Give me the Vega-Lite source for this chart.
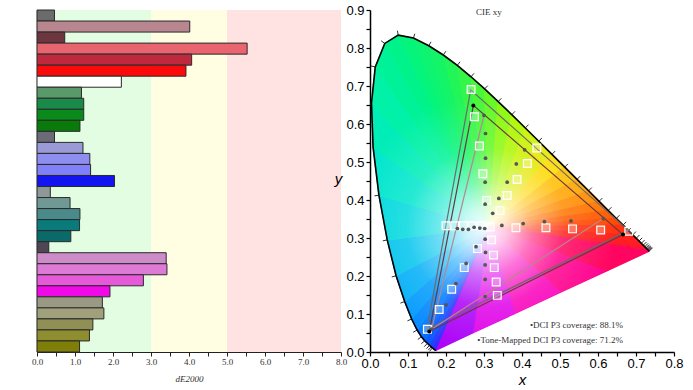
{
  "$schema": "https://vega.github.io/schema/vega-lite/v6.json",
  "padding": {"left": 31, "top": 4, "right": 5, "bottom": 2},
  "background": "white",
  "bounds": "flush",
  "spacing": 29,
  "config": {"view": {"stroke": null}, "axis": {"grid": false}},
  "datasets": {
    "bands": [
      {"lo": 0, "hi": 3, "zone": "good"},
      {"lo": 3, "hi": 5, "zone": "ok"},
      {"lo": 5, "hi": 8, "zone": "bad"}
    ],
    "bars": [
      {"p": "01", "de": 0.46}, {"p": "02", "de": 4.02}, {"p": "03", "de": 0.73}, {"p": "04", "de": 5.53},
      {"p": "05", "de": 4.07}, {"p": "06", "de": 3.92}, {"p": "07", "de": 2.22}, {"p": "08", "de": 1.17},
      {"p": "09", "de": 1.23}, {"p": "10", "de": 1.23}, {"p": "11", "de": 1.13}, {"p": "12", "de": 0.46},
      {"p": "13", "de": 1.21}, {"p": "14", "de": 1.39}, {"p": "15", "de": 1.41}, {"p": "16", "de": 2.04},
      {"p": "17", "de": 0.35}, {"p": "18", "de": 0.87}, {"p": "19", "de": 1.13}, {"p": "20", "de": 1.12},
      {"p": "21", "de": 0.89}, {"p": "22", "de": 0.31}, {"p": "23", "de": 3.40}, {"p": "24", "de": 3.42},
      {"p": "25", "de": 2.80}, {"p": "26", "de": 1.92}, {"p": "27", "de": 1.72}, {"p": "28", "de": 1.76},
      {"p": "29", "de": 1.47}, {"p": "30", "de": 1.38}, {"p": "31", "de": 1.12}
    ],
    "fan": [
      {"nm": 400, "xs": [0.3127, 0.1741, 0.1714], "ys": [0.329, 0.0050, 0.0051], "k": [0, 1, 2]},
      {"nm": 430, "xs": [0.3127, 0.1714, 0.1644], "ys": [0.329, 0.0051, 0.0109], "k": [0, 1, 2]},
      {"nm": 445, "xs": [0.3127, 0.1644, 0.1566], "ys": [0.329, 0.0109, 0.0177], "k": [0, 1, 2]},
      {"nm": 455, "xs": [0.3127, 0.1566, 0.1440], "ys": [0.329, 0.0177, 0.0297], "k": [0, 1, 2]},
      {"nm": 462.5, "xs": [0.3127, 0.1440, 0.1355], "ys": [0.329, 0.0297, 0.0399], "k": [0, 1, 2]},
      {"nm": 467.5, "xs": [0.3127, 0.1355, 0.1241], "ys": [0.329, 0.0399, 0.0578], "k": [0, 1, 2]},
      {"nm": 472.5, "xs": [0.3127, 0.1241, 0.1096], "ys": [0.329, 0.0578, 0.0868], "k": [0, 1, 2]},
      {"nm": 477.5, "xs": [0.3127, 0.1096, 0.0913], "ys": [0.329, 0.0868, 0.1327], "k": [0, 1, 2]},
      {"nm": 482.5, "xs": [0.3127, 0.0913, 0.0687], "ys": [0.329, 0.1327, 0.2007], "k": [0, 1, 2]},
      {"nm": 487.5, "xs": [0.3127, 0.0687, 0.0454], "ys": [0.329, 0.2007, 0.2950], "k": [0, 1, 2]},
      {"nm": 492.5, "xs": [0.3127, 0.0454, 0.0235], "ys": [0.329, 0.2950, 0.4127], "k": [0, 1, 2]},
      {"nm": 497.5, "xs": [0.3127, 0.0235, 0.0082], "ys": [0.329, 0.4127, 0.5384], "k": [0, 1, 2]},
      {"nm": 502.5, "xs": [0.3127, 0.0082, 0.0039], "ys": [0.329, 0.5384, 0.6548], "k": [0, 1, 2]},
      {"nm": 507.5, "xs": [0.3127, 0.0039, 0.0139], "ys": [0.329, 0.6548, 0.7502], "k": [0, 1, 2]},
      {"nm": 512.5, "xs": [0.3127, 0.0139, 0.0389], "ys": [0.329, 0.7502, 0.8120], "k": [0, 1, 2]},
      {"nm": 517.5, "xs": [0.3127, 0.0389, 0.0743], "ys": [0.329, 0.8120, 0.8338], "k": [0, 1, 2]},
      {"nm": 522.5, "xs": [0.3127, 0.0743, 0.1142], "ys": [0.329, 0.8338, 0.8262], "k": [0, 1, 2]},
      {"nm": 527.5, "xs": [0.3127, 0.1142, 0.1547], "ys": [0.329, 0.8262, 0.8059], "k": [0, 1, 2]},
      {"nm": 532.5, "xs": [0.3127, 0.1547, 0.1929], "ys": [0.329, 0.8059, 0.7816], "k": [0, 1, 2]},
      {"nm": 537.5, "xs": [0.3127, 0.1929, 0.2296], "ys": [0.329, 0.7816, 0.7543], "k": [0, 1, 2]},
      {"nm": 542.5, "xs": [0.3127, 0.2296, 0.2658], "ys": [0.329, 0.7543, 0.7243], "k": [0, 1, 2]},
      {"nm": 547.5, "xs": [0.3127, 0.2658, 0.3016], "ys": [0.329, 0.7243, 0.6923], "k": [0, 1, 2]},
      {"nm": 552.5, "xs": [0.3127, 0.3016, 0.3373], "ys": [0.329, 0.6923, 0.6589], "k": [0, 1, 2]},
      {"nm": 557.5, "xs": [0.3127, 0.3373, 0.3731], "ys": [0.329, 0.6589, 0.6245], "k": [0, 1, 2]},
      {"nm": 562.5, "xs": [0.3127, 0.3731, 0.4087], "ys": [0.329, 0.6245, 0.5896], "k": [0, 1, 2]},
      {"nm": 567.5, "xs": [0.3127, 0.4087, 0.4441], "ys": [0.329, 0.5896, 0.5547], "k": [0, 1, 2]},
      {"nm": 572.5, "xs": [0.3127, 0.4441, 0.4788], "ys": [0.329, 0.5547, 0.5202], "k": [0, 1, 2]},
      {"nm": 577.5, "xs": [0.3127, 0.4788, 0.5125], "ys": [0.329, 0.5202, 0.4866], "k": [0, 1, 2]},
      {"nm": 582.5, "xs": [0.3127, 0.5125, 0.5448], "ys": [0.329, 0.4866, 0.4544], "k": [0, 1, 2]},
      {"nm": 587.5, "xs": [0.3127, 0.5448, 0.5752], "ys": [0.329, 0.4544, 0.4242], "k": [0, 1, 2]},
      {"nm": 592.5, "xs": [0.3127, 0.5752, 0.6029], "ys": [0.329, 0.4242, 0.3965], "k": [0, 1, 2]},
      {"nm": 597.5, "xs": [0.3127, 0.6029, 0.6270], "ys": [0.329, 0.3965, 0.3725], "k": [0, 1, 2]},
      {"nm": 602.5, "xs": [0.3127, 0.6270, 0.6482], "ys": [0.329, 0.3725, 0.3514], "k": [0, 1, 2]},
      {"nm": 607.5, "xs": [0.3127, 0.6482, 0.6658], "ys": [0.329, 0.3514, 0.3340], "k": [0, 1, 2]},
      {"nm": 615, "xs": [0.3127, 0.6658, 0.6915], "ys": [0.329, 0.3340, 0.3083], "k": [0, 1, 2]},
      {"nm": 625, "xs": [0.3127, 0.6915, 0.7079], "ys": [0.329, 0.3083, 0.2920], "k": [0, 1, 2]},
      {"nm": 635, "xs": [0.3127, 0.7079, 0.7190], "ys": [0.329, 0.2920, 0.2809], "k": [0, 1, 2]},
      {"nm": 650, "xs": [0.3127, 0.7190, 0.7300], "ys": [0.329, 0.2809, 0.2700], "k": [0, 1, 2]},
      {"nm": 680, "xs": [0.3127, 0.7300, 0.7347], "ys": [0.329, 0.2700, 0.2653], "k": [0, 1, 2]},
      {"nm": 710, "xs": [0.3127, 0.7347, 0.62], "ys": [0.329, 0.2653, 0.212], "k": [0, 1, 2]},
      {"nm": 730, "xs": [0.3127, 0.62, 0.50], "ys": [0.329, 0.212, 0.157], "k": [0, 1, 2]},
      {"nm": 750, "xs": [0.3127, 0.50, 0.38], "ys": [0.329, 0.157, 0.101], "k": [0, 1, 2]},
      {"nm": 770, "xs": [0.3127, 0.38, 0.27], "ys": [0.329, 0.101, 0.050], "k": [0, 1, 2]},
      {"nm": 790, "xs": [0.3127, 0.27, 0.1741], "ys": [0.329, 0.050, 0.0050], "k": [0, 1, 2]}
    ],
    "locus": [
      {"nm": 380, "x": 0.1741, "y": 0.0050}, {"nm": 400, "x": 0.1733, "y": 0.0048}, {"nm": 420, "x": 0.1714, "y": 0.0051},
      {"nm": 430, "x": 0.1689, "y": 0.0069}, {"nm": 440, "x": 0.1644, "y": 0.0109}, {"nm": 450, "x": 0.1566, "y": 0.0177},
      {"nm": 460, "x": 0.1440, "y": 0.0297}, {"nm": 465, "x": 0.1355, "y": 0.0399}, {"nm": 470, "x": 0.1241, "y": 0.0578},
      {"nm": 475, "x": 0.1096, "y": 0.0868}, {"nm": 480, "x": 0.0913, "y": 0.1327}, {"nm": 485, "x": 0.0687, "y": 0.2007},
      {"nm": 490, "x": 0.0454, "y": 0.2950}, {"nm": 495, "x": 0.0235, "y": 0.4127}, {"nm": 500, "x": 0.0082, "y": 0.5384},
      {"nm": 505, "x": 0.0039, "y": 0.6548}, {"nm": 510, "x": 0.0139, "y": 0.7502}, {"nm": 515, "x": 0.0389, "y": 0.8120},
      {"nm": 520, "x": 0.0743, "y": 0.8338}, {"nm": 525, "x": 0.1142, "y": 0.8262}, {"nm": 530, "x": 0.1547, "y": 0.8059},
      {"nm": 535, "x": 0.1929, "y": 0.7816}, {"nm": 540, "x": 0.2296, "y": 0.7543}, {"nm": 545, "x": 0.2658, "y": 0.7243},
      {"nm": 550, "x": 0.3016, "y": 0.6923}, {"nm": 555, "x": 0.3373, "y": 0.6589}, {"nm": 560, "x": 0.3731, "y": 0.6245},
      {"nm": 565, "x": 0.4087, "y": 0.5896}, {"nm": 570, "x": 0.4441, "y": 0.5547}, {"nm": 575, "x": 0.4788, "y": 0.5202},
      {"nm": 580, "x": 0.5125, "y": 0.4866}, {"nm": 585, "x": 0.5448, "y": 0.4544}, {"nm": 590, "x": 0.5752, "y": 0.4242},
      {"nm": 595, "x": 0.6029, "y": 0.3965}, {"nm": 600, "x": 0.6270, "y": 0.3725}, {"nm": 605, "x": 0.6482, "y": 0.3514},
      {"nm": 610, "x": 0.6658, "y": 0.3340}, {"nm": 620, "x": 0.6915, "y": 0.3083}, {"nm": 630, "x": 0.7079, "y": 0.2920},
      {"nm": 640, "x": 0.7190, "y": 0.2809}, {"nm": 650, "x": 0.7260, "y": 0.2740}, {"nm": 660, "x": 0.7300, "y": 0.2700},
      {"nm": 680, "x": 0.7334, "y": 0.2666}, {"nm": 700, "x": 0.7347, "y": 0.2653}
    ],
    "nmticks": [
      {"nm": 440, "x": 0.1644, "y": 0.0109, "x2": 0.1567, "y2": 0.0017},
      {"nm": 445, "x": 0.1611, "y": 0.0138, "x2": 0.1532, "y2": 0.0048},
      {"nm": 450, "x": 0.1566, "y": 0.0177, "x2": 0.1487, "y2": 0.0087},
      {"nm": 455, "x": 0.1510, "y": 0.0227, "x2": 0.1427, "y2": 0.0140},
      {"nm": 460, "x": 0.1440, "y": 0.0297, "x2": 0.1351, "y2": 0.0217},
      {"nm": 465, "x": 0.1355, "y": 0.0399, "x2": 0.1257, "y2": 0.0330},
      {"nm": 470, "x": 0.1241, "y": 0.0578, "x2": 0.1136, "y2": 0.0520},
      {"nm": 475, "x": 0.1096, "y": 0.0868, "x2": 0.0986, "y2": 0.0820},
      {"nm": 480, "x": 0.0913, "y": 0.1327, "x2": 0.0800, "y2": 0.1286},
      {"nm": 485, "x": 0.0687, "y": 0.2007, "x2": 0.0572, "y2": 0.1974},
      {"nm": 490, "x": 0.0454, "y": 0.2950, "x2": 0.0337, "y2": 0.2925},
      {"nm": 495, "x": 0.0235, "y": 0.4127, "x2": 0.0116, "y2": 0.4109},
      {"nm": 510, "x": 0.0139, "y": 0.7502, "x2": 0.0022, "y2": 0.7528},
      {"nm": 515, "x": 0.0389, "y": 0.8120, "x2": 0.0292, "y2": 0.8190},
      {"nm": 520, "x": 0.0743, "y": 0.8338, "x2": 0.0721, "y2": 0.8456},
      {"nm": 525, "x": 0.1142, "y": 0.8262, "x2": 0.1181, "y2": 0.8375},
      {"nm": 530, "x": 0.1547, "y": 0.8059, "x2": 0.1606, "y2": 0.8163},
      {"nm": 535, "x": 0.1929, "y": 0.7816, "x2": 0.1997, "y2": 0.7915},
      {"nm": 540, "x": 0.2296, "y": 0.7543, "x2": 0.2370, "y2": 0.7637},
      {"nm": 545, "x": 0.2658, "y": 0.7243, "x2": 0.2738, "y2": 0.7333},
      {"nm": 550, "x": 0.3016, "y": 0.6923, "x2": 0.3099, "y2": 0.7010},
      {"nm": 555, "x": 0.3373, "y": 0.6589, "x2": 0.3456, "y2": 0.6676},
      {"nm": 560, "x": 0.3731, "y": 0.6245, "x2": 0.3814, "y2": 0.6332},
      {"nm": 565, "x": 0.4087, "y": 0.5896, "x2": 0.4170, "y2": 0.5983},
      {"nm": 570, "x": 0.4441, "y": 0.5547, "x2": 0.4524, "y2": 0.5634},
      {"nm": 575, "x": 0.4788, "y": 0.5202, "x2": 0.4873, "y2": 0.5288},
      {"nm": 580, "x": 0.5125, "y": 0.4866, "x2": 0.5210, "y2": 0.4952},
      {"nm": 585, "x": 0.5448, "y": 0.4544, "x2": 0.5533, "y2": 0.4630},
      {"nm": 590, "x": 0.5752, "y": 0.4242, "x2": 0.5837, "y2": 0.4328},
      {"nm": 595, "x": 0.6029, "y": 0.3965, "x2": 0.6114, "y2": 0.4051},
      {"nm": 600, "x": 0.6270, "y": 0.3725, "x2": 0.6355, "y2": 0.3811},
      {"nm": 605, "x": 0.6482, "y": 0.3514, "x2": 0.6567, "y2": 0.3600},
      {"nm": 610, "x": 0.6658, "y": 0.3340, "x2": 0.6743, "y2": 0.3426},
      {"nm": 615, "x": 0.6801, "y": 0.3197, "x2": 0.6886, "y2": 0.3283},
      {"nm": 620, "x": 0.6915, "y": 0.3083, "x2": 0.7000, "y2": 0.3169},
      {"nm": 625, "x": 0.7006, "y": 0.2993, "x2": 0.7091, "y2": 0.3079},
      {"nm": 630, "x": 0.7079, "y": 0.2920, "x2": 0.7164, "y2": 0.3006},
      {"nm": 635, "x": 0.7140, "y": 0.2859, "x2": 0.7225, "y2": 0.2945},
      {"nm": 640, "x": 0.7190, "y": 0.2809, "x2": 0.7275, "y2": 0.2895},
      {"nm": 645, "x": 0.7230, "y": 0.2770, "x2": 0.7315, "y2": 0.2856},
      {"nm": 650, "x": 0.7260, "y": 0.2740, "x2": 0.7345, "y2": 0.2826},
      {"nm": 655, "x": 0.7283, "y": 0.2717, "x2": 0.7368, "y2": 0.2803},
      {"nm": 660, "x": 0.7300, "y": 0.2700, "x2": 0.7385, "y2": 0.2786},
      {"nm": 670, "x": 0.7320, "y": 0.2680, "x2": 0.7405, "y2": 0.2766},
      {"nm": 680, "x": 0.7334, "y": 0.2666, "x2": 0.7419, "y2": 0.2752},
      {"nm": 700, "x": 0.7347, "y": 0.2653, "x2": 0.7432, "y2": 0.2739}
    ],
    "gamut": [
      {"g": "P3", "k": 0, "x": 0.680, "y": 0.320}, {"g": "P3", "k": 1, "x": 0.265, "y": 0.690},
      {"g": "P3", "k": 2, "x": 0.150, "y": 0.060}, {"g": "P3", "k": 3, "x": 0.680, "y": 0.320},
      {"g": "tm", "k": 0, "x": 0.614, "y": 0.351}, {"g": "tm", "k": 1, "x": 0.162, "y": 0.060},
      {"g": "tm", "k": 2, "x": 0.300, "y": 0.623},
      {"g": "meas", "k": 0, "x": 0.666, "y": 0.309}, {"g": "meas", "k": 1, "x": 0.272, "y": 0.649},
      {"g": "meas", "k": 2, "x": 0.156, "y": 0.054}, {"g": "meas", "k": 3, "x": 0.666, "y": 0.309}
    ],
    "targets": [
      {"x": 0.266, "y": 0.691}, {"x": 0.275, "y": 0.619}, {"x": 0.288, "y": 0.542}, {"x": 0.297, "y": 0.469}, {"x": 0.307, "y": 0.399},
      {"x": 0.342, "y": 0.372}, {"x": 0.361, "y": 0.412}, {"x": 0.387, "y": 0.454}, {"x": 0.414, "y": 0.496}, {"x": 0.439, "y": 0.537},
      {"x": 0.384, "y": 0.327}, {"x": 0.463, "y": 0.327}, {"x": 0.533, "y": 0.324}, {"x": 0.607, "y": 0.321}, {"x": 0.681, "y": 0.318},
      {"x": 0.200, "y": 0.332}, {"x": 0.223, "y": 0.332}, {"x": 0.246, "y": 0.332}, {"x": 0.269, "y": 0.332}, {"x": 0.293, "y": 0.332},
      {"x": 0.316, "y": 0.329},
      {"x": 0.283, "y": 0.272}, {"x": 0.248, "y": 0.222}, {"x": 0.215, "y": 0.165}, {"x": 0.182, "y": 0.112}, {"x": 0.151, "y": 0.060},
      {"x": 0.320, "y": 0.295}, {"x": 0.325, "y": 0.255}, {"x": 0.327, "y": 0.222}, {"x": 0.332, "y": 0.184}, {"x": 0.335, "y": 0.149}
    ],
    "measured": [
      {"x": 0.300, "y": 0.623}, {"x": 0.304, "y": 0.575}, {"x": 0.304, "y": 0.510}, {"x": 0.303, "y": 0.447}, {"x": 0.303, "y": 0.389},
      {"x": 0.323, "y": 0.365}, {"x": 0.339, "y": 0.404}, {"x": 0.361, "y": 0.447}, {"x": 0.385, "y": 0.495}, {"x": 0.407, "y": 0.532},
      {"x": 0.347, "y": 0.333}, {"x": 0.403, "y": 0.338}, {"x": 0.459, "y": 0.343}, {"x": 0.529, "y": 0.345}, {"x": 0.614, "y": 0.351},
      {"x": 0.230, "y": 0.325}, {"x": 0.244, "y": 0.323}, {"x": 0.259, "y": 0.323}, {"x": 0.274, "y": 0.328}, {"x": 0.289, "y": 0.326},
      {"x": 0.302, "y": 0.325},
      {"x": 0.279, "y": 0.277}, {"x": 0.253, "y": 0.233}, {"x": 0.226, "y": 0.180}, {"x": 0.200, "y": 0.124}, {"x": 0.162, "y": 0.060},
      {"x": 0.303, "y": 0.297}, {"x": 0.304, "y": 0.262}, {"x": 0.303, "y": 0.229}, {"x": 0.303, "y": 0.191}, {"x": 0.303, "y": 0.146}
    ],
    "corners": [
      {"x": 0.272, "y": 0.649}, {"x": 0.666, "y": 0.309}, {"x": 0.156, "y": 0.054}
    ],
    "notes": [
      {"x": 0.666, "y": 0.070, "t": "•DCI P3 coverage: 88.1%"},
      {"x": 0.666, "y": 0.031, "t": "•Tone-Mapped DCI P3 coverage: 71.2%"}
    ],
    "heading": [
      {"x": 0.313, "y": 0.894, "t": "CIE xy"}
    ]
  },
  "hconcat": [
    {
      "width": 304,
      "height": 342,
      "layer": [
        {
          "data": {"name": "bands"},
          "mark": {"type": "rect"},
          "encoding": {
            "x": {
              "field": "lo", "type": "quantitative",
              "scale": {"domain": [0, 8], "nice": false, "zero": false},
              "axis": {
                "values": [0, 0.5, 1, 1.5, 2, 2.5, 3, 3.5, 4, 4.5, 5, 5.5, 6, 6.5, 7, 7.5, 8],
                "tickCount": 200,
                "labelExpr": "datum.value % 1 == 0 ? format(datum.value, '.1f') : ''",
                "labelOverlap": false,
                "labelFlush": false,
                "labelFont": "Liberation Serif", "labelFontSize": 9, "labelColor": "#333",
                "labelPadding": 1,
                "tickColor": "#222", "tickSize": 4, "tickWidth": 1,
                "domainColor": "#222", "domainWidth": 1,
                "title": "dE2000",
                "titleFont": "Liberation Serif", "titleFontSize": 9, "titleFontStyle": "italic",
                "titleFontWeight": "normal", "titleColor": "#333", "titlePadding": 8
              }
            },
            "x2": {"field": "hi"},
            "fill": {
              "field": "zone", "type": "nominal",
              "scale": {"domain": ["good", "ok", "bad"], "range": ["#e3fde3", "#fffee3", "#ffe2e2"]},
              "legend": null
            }
          }
        },
        {
          "data": {"name": "bars"},
          "mark": {"type": "bar", "stroke": "#2a2a2a", "strokeWidth": 1},
          "encoding": {
            "y": {
              "field": "p", "type": "ordinal", "sort": null,
              "scale": {"paddingInner": 0, "paddingOuter": 0},
              "axis": {"labels": false, "ticks": false, "title": null, "domainColor": "#222", "domainWidth": 1.2}
            },
            "x": {"field": "de", "type": "quantitative"},
            "color": {
              "field": "p", "type": "nominal",
              "scale": {
                "domain": ["01","02","03","04","05","06","07","08","09","10","11","12","13","14","15","16","17","18","19","20","21","22","23","24","25","26","27","28","29","30","31"],
                "range": ["#6b6b6b","#b8868e","#6b363e","#e8646e","#c0283e","#fa0a0a","#ffffff","#5a9a6a","#1a8a4a","#0a8a1a","#0a7a0a","#6b6b78","#9a9ad6","#8e8ef0","#8080f8","#1414f0","#8e9898","#709996","#4a8a8a","#0a7a7a","#0a6a6a","#4e4652","#cc8cc8","#dc7ad6","#e65ada","#f00ae6","#9a9a84","#a0a07c","#909056","#8e8e30","#7e7e08"]
              },
              "legend": null
            }
          }
        }
      ]
    },
    {
      "width": 304,
      "height": 342,
      "layer": [
        {
          "data": {"name": "fan"},
          "transform": [{"flatten": ["xs", "ys", "k"]}],
          "mark": {"type": "line", "strokeWidth": 1.3, "strokeJoin": "round"},
          "encoding": {
            "x": {
              "field": "xs", "type": "quantitative",
              "scale": {"domain": [0, 0.8], "nice": false, "zero": false},
              "axis": {
                "values": [0, 0.05, 0.1, 0.15, 0.2, 0.25, 0.3, 0.35, 0.4, 0.45, 0.5, 0.55, 0.6, 0.65, 0.7, 0.75, 0.8],
                "tickCount": 200,
                "labelExpr": "round(datum.value * 100) % 10 == 0 ? format(datum.value, '.1f') : ''",
                "labelOverlap": false, "labelFlush": false,
                "labelFont": "Liberation Sans", "labelFontSize": 13, "labelColor": "#000",
                "labelPadding": 1,
                "tickColor": "#000", "tickSize": 4, "tickWidth": 1.2,
                "domainColor": "#000", "domainWidth": 1.5,
                "title": "x", "titleFont": "Liberation Sans", "titleFontSize": 15,
                "titleFontStyle": "italic", "titleFontWeight": "normal", "titleColor": "#000",
                "titlePadding": 2
              }
            },
            "y": {
              "field": "ys", "type": "quantitative",
              "scale": {"domain": [0, 0.9], "nice": false, "zero": false},
              "axis": {
                "values": [0, 0.05, 0.1, 0.15, 0.2, 0.25, 0.3, 0.35, 0.4, 0.45, 0.5, 0.55, 0.6, 0.65, 0.7, 0.75, 0.8, 0.85, 0.9],
                "tickCount": 200,
                "labelExpr": "round(datum.value * 100) % 10 == 0 ? format(datum.value, '.1f') : ''",
                "labelOverlap": false, "labelFlush": false,
                "labelFont": "Liberation Sans", "labelFontSize": 13, "labelColor": "#000",
                "labelPadding": 2,
                "tickColor": "#000", "tickSize": 4, "tickWidth": 1.2,
                "domainColor": "#000", "domainWidth": 1.5,
                "title": "y", "titleFont": "Liberation Sans", "titleFontSize": 15,
                "titleFontStyle": "italic", "titleFontWeight": "normal", "titleColor": "#000",
                "titleAngle": 0, "titlePadding": 8, "titleY": 176
              }
            },
            "order": {"field": "k", "type": "quantitative"},
            "detail": {"field": "nm", "type": "quantitative"},
            "fill": {
              "field": "nm", "type": "quantitative",
              "scale": {
                "domain": [380, 440, 460, 475, 485, 490, 495, 500, 505, 512, 520, 535, 550, 560, 570, 578, 585, 595, 605, 620, 700, 720, 745, 770, 800],
                "range": ["#7000ff", "#2a30ff", "#0060ff", "#0090ff", "#00b8f4", "#00d0e6", "#00e2d6", "#00eac2", "#00f0ae", "#00f29a", "#00f482", "#18f460", "#50f830", "#a0f800", "#d8ee00", "#ffd800", "#ffb000", "#ff8000", "#ff5000", "#ff2418", "#ff0848", "#ff0078", "#ff00b0", "#e000e8", "#9000ff"],
                "interpolate": "rgb", "zero": false, "nice": false
              },
              "legend": null
            },
            "stroke": {
              "field": "nm", "type": "quantitative",
              "scale": {
                "domain": [380, 440, 460, 475, 485, 490, 495, 500, 505, 512, 520, 535, 550, 560, 570, 578, 585, 595, 605, 620, 700, 720, 745, 770, 800],
                "range": ["#7000ff", "#2a30ff", "#0060ff", "#0090ff", "#00b8f4", "#00d0e6", "#00e2d6", "#00eac2", "#00f0ae", "#00f29a", "#00f482", "#18f460", "#50f830", "#a0f800", "#d8ee00", "#ffd800", "#ffb000", "#ff8000", "#ff5000", "#ff2418", "#ff0848", "#ff0078", "#ff00b0", "#e000e8", "#9000ff"],
                "interpolate": "rgb", "zero": false, "nice": false
              },
              "legend": null
            }
          }
        },
        {
          "data": {"name": "locus"},
          "mark": {
            "type": "line", "strokeWidth": 0, "stroke": "transparent",
            "fill": {
              "gradient": "radial",
              "x1": 0.4226, "y1": 0.609, "r1": 0,
              "x2": 0.4226, "y2": 0.609, "r2": 0.42,
              "stops": [
                {"offset": 0, "color": "rgba(255,255,255,0.95)"},
                {"offset": 0.15, "color": "rgba(255,255,255,0.8)"},
                {"offset": 0.35, "color": "rgba(255,255,255,0.45)"},
                {"offset": 0.6, "color": "rgba(255,255,255,0.15)"},
                {"offset": 1, "color": "rgba(255,255,255,0)"}
              ]
            }
          },
          "encoding": {
            "x": {"field": "x", "type": "quantitative"},
            "y": {"field": "y", "type": "quantitative"},
            "order": {"field": "nm", "type": "quantitative"}
          }
        },
        {
          "data": {"name": "locus"},
          "mark": {"type": "line", "stroke": "#000", "strokeWidth": 1.6},
          "encoding": {
            "x": {"field": "x", "type": "quantitative"},
            "y": {"field": "y", "type": "quantitative"},
            "order": {"field": "nm", "type": "quantitative"}
          }
        },
        {
          "data": {"name": "nmticks"},
          "mark": {"type": "rule", "color": "#1a1a1a", "strokeWidth": 0.9},
          "encoding": {
            "x": {"field": "x", "type": "quantitative"},
            "y": {"field": "y", "type": "quantitative"},
            "x2": {"field": "x2"},
            "y2": {"field": "y2"}
          }
        },
        {
          "data": {"name": "gamut"},
          "mark": {"type": "line", "strokeWidth": 1.2},
          "encoding": {
            "x": {"field": "x", "type": "quantitative"},
            "y": {"field": "y", "type": "quantitative"},
            "order": {"field": "k", "type": "quantitative"},
            "color": {
              "field": "g", "type": "nominal",
              "scale": {"domain": ["P3", "tm", "meas"], "range": ["#ffffff", "#707070", "#000000"]},
              "legend": null
            }
          }
        },
        {
          "data": {"name": "targets"},
          "mark": {"type": "point", "shape": "square", "size": 60, "filled": false, "stroke": "#ffffff", "strokeWidth": 1.2, "fill": "#ffffff", "fillOpacity": 0.25, "opacity": 1},
          "encoding": {
            "x": {"field": "x", "type": "quantitative"},
            "y": {"field": "y", "type": "quantitative"}
          }
        },
        {
          "data": {"name": "measured"},
          "mark": {"type": "circle", "size": 14, "color": "#555555", "opacity": 1},
          "encoding": {
            "x": {"field": "x", "type": "quantitative"},
            "y": {"field": "y", "type": "quantitative"}
          }
        },
        {
          "data": {"name": "corners"},
          "mark": {"type": "circle", "size": 16, "color": "#000000", "opacity": 1},
          "encoding": {
            "x": {"field": "x", "type": "quantitative"},
            "y": {"field": "y", "type": "quantitative"}
          }
        },
        {
          "data": {"name": "notes"},
          "mark": {"type": "text", "align": "right", "baseline": "middle", "font": "Liberation Serif", "fontSize": 9, "color": "#333"},
          "encoding": {
            "x": {"field": "x", "type": "quantitative"},
            "y": {"field": "y", "type": "quantitative"},
            "text": {"field": "t"}
          }
        },
        {
          "data": {"name": "heading"},
          "mark": {"type": "text", "align": "center", "baseline": "middle", "font": "Liberation Serif", "fontSize": 9, "color": "#333"},
          "encoding": {
            "x": {"field": "x", "type": "quantitative"},
            "y": {"field": "y", "type": "quantitative"},
            "text": {"field": "t"}
          }
        }
      ]
    }
  ]
}
